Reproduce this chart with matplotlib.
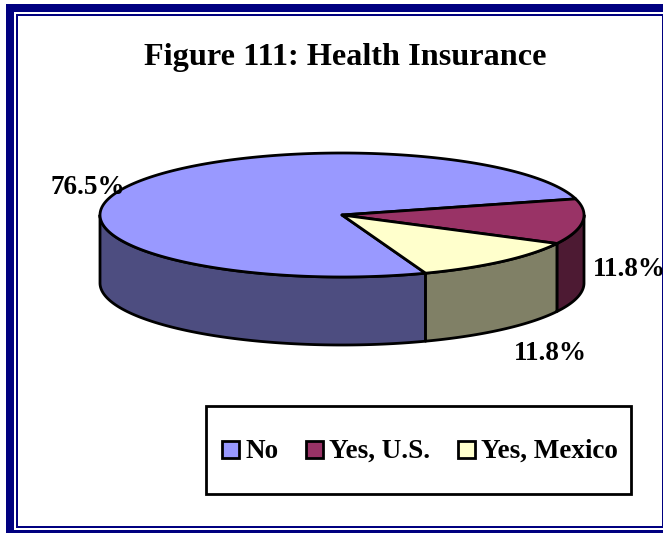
import numpy as np
import matplotlib
matplotlib.use('Agg')
import matplotlib.pyplot as plt
from matplotlib.patches import Polygon, Rectangle

# Chart values
categories = ['No', 'Yes, U.S.', 'Yes, Mexico']
values = [76.5, 11.8, 11.8]
pct_labels = ['76.5%', '11.8%', '11.8%']
top_colors = ['#9999FF', '#993366', '#FFFFCC']
side_colors = ['#4D4D80', '#4D1A33', '#808066']

W, H = 663, 533
cx, cy, rx, ry, depth = 342, 215, 242, 62, 68
start_deg = 69.8  # where the "No" slice begins, going clockwise on screen

plt.rcParams['font.family'] = 'Liberation Serif'
plt.rcParams['font.weight'] = 'bold'

fig = plt.figure(figsize=(W / 100, H / 100), dpi=100)
ax = fig.add_axes([0, 0, 1, 1])
ax.set_xlim(0, W)
ax.set_ylim(H, 0)
ax.axis('off')

# Double border
navy = '#000080'
ax.add_patch(Rectangle((6, 4), 8, 529, fc=navy, ec='none'))
ax.add_patch(Rectangle((6, 4), 657, 8, fc=navy, ec='none'))
ax.add_patch(Rectangle((6, 530), 657, 3, fc=navy, ec='none'))
ax.add_patch(Rectangle((16, 14), 2, 514, fc=navy, ec='none'))
ax.add_patch(Rectangle((16, 14), 647, 2, fc=navy, ec='none'))
ax.add_patch(Rectangle((16, 526), 647, 2, fc=navy, ec='none'))
ax.add_patch(Rectangle((662, 14), 1, 514, fc=navy, ec='none'))


def rim(t0, t1, n=200):
    t = np.radians(np.linspace(t0, t1, n))
    return cx + rx * np.cos(t), cy + ry * np.sin(t)


spans = np.array(values) / sum(values) * 360
edges = start_deg + np.concatenate([[0], np.cumsum(spans)])

# Side walls, visible only on the front half of the rim
for i in range(len(values)):
    a0, a1 = edges[i], edges[i + 1]
    for shift in (-360, 0, 360):
        lo, hi = max(a0 + shift, 0), min(a1 + shift, 180)
        if hi > lo:
            x, y = rim(lo, hi)
            pts = np.r_[np.c_[x, y], np.c_[x[::-1], y[::-1] + depth]]
            ax.add_patch(Polygon(pts, fc=side_colors[i], ec='black', lw=2, joinstyle='round', zorder=2))

# Top faces
for i in range(len(values)):
    x, y = rim(edges[i], edges[i + 1])
    pts = np.r_[[[cx, cy]], np.c_[x, y]]
    ax.add_patch(Polygon(pts, fc=top_colors[i], ec='black', lw=2, joinstyle='round', zorder=3))

ax.text(345.5, 57, 'Figure 111: Health Insurance', ha='center', va='center', fontsize=23.2, color='black')

ax.text(50, 188, pct_labels[0], ha='left', va='center', fontsize=19.5, zorder=5)
ax.text(593, 270, pct_labels[1], ha='left', va='center', fontsize=19.5, zorder=5)
ax.text(514, 353, pct_labels[2], ha='left', va='center', fontsize=19.5, zorder=5)

# Legend box
ax.add_patch(Rectangle((206, 406), 425, 88, fc='white', ec='black', lw=2, zorder=4))
swatch_x = [222, 306, 458]
for sx, name, col in zip(swatch_x, categories, top_colors):
    ax.add_patch(Rectangle((sx, 441), 17, 17, fc=col, ec='black', lw=2, zorder=5))
    ax.text(sx + 23, 451, name, ha='left', va='center', fontsize=19.5, zorder=5)

fig.savefig('out.png', dpi=100)
